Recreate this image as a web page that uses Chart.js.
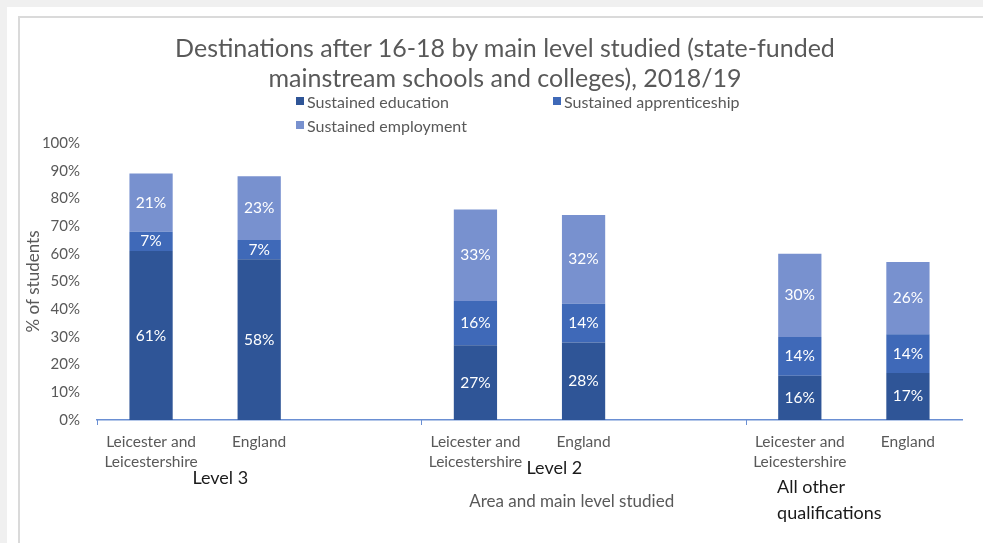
<!DOCTYPE html>
<html>
<head>
<meta charset="utf-8">
<title>Destinations after 16-18</title>
<script src="https://cdn.jsdelivr.net/npm/chart.js@4.4.1/dist/chart.umd.min.js"></script>
<style>
  html, body { margin: 0; padding: 0; background: #f0f0f0; width: 983px; height: 543px; overflow: hidden; }
  .sheet { position: absolute; left: 7px; top: 7px; width: 976px; height: 536px; background: #fff; }
  .panel { position: absolute; left: 11px; top: 9px; right: 0; bottom: 0; border-left: 2px solid #dadada; border-top: 2px solid #dadada; }
  .wrap { position: absolute; left: 0; top: 0; width: 963px; height: 525px; }
  #title { position: absolute; left: 0; top: 14px; width: 970px; text-align: center;
           font: 25px/30px Lato, sans-serif; color: #595959; white-space: nowrap; }
  #legend { position: absolute; left: 276px; top: 74px; display: grid; grid-template-columns: 257px 220px; row-gap: 6px;
            font: 16px Lato, sans-serif; color: #595959; }
  #legend span.item { display: flex; align-items: center; height: 18px; white-space: nowrap; }
  #legend i { display: inline-block; width: 8px; height: 8px; margin-right: 3px; }
</style>
</head>
<body>
<div class="sheet">
  <div class="panel">
    <div class="wrap">
      <canvas id="chart"></canvas>
      <div id="title"></div>
      <div id="legend"></div>
    </div>
  </div>
</div>
<script>
const titleLines = ["Destinations after 16-18 by main level studied (state-funded", "mainstream schools and colleges), 2018/19"];
const categories = [
  ["Leicester and", "Leicestershire"], "England", "",
  ["Leicester and", "Leicestershire"], "England", "",
  ["Leicester and", "Leicestershire"], "England"
];
const seriesNames = ["Sustained education", "Sustained apprenticeship", "Sustained employment"];
const education = [61, 58, null, 27, 28, null, 16, 17];
const apprenticeship = [7, 7, null, 16, 14, null, 14, 14];
const employment = [21, 23, null, 33, 32, null, 30, 26];
const groupNames = ["Level 3", "Level 2", ["All other", "qualifications"]];
const yTicks = [0, 10, 20, 30, 40, 50, 60, 70, 80, 90, 100];
const colors = ["#2f5597", "#3f69b8", "#7891cf"];

const FONT = "Lato, sans-serif";
const GREY = "#595959";
const AXIS_BLUE = "#6a8fd3";

// white percentage inside each stacked segment
const segmentLabels = {
  id: "segmentLabels",
  afterDatasetsDraw(chart) {
    const ctx = chart.ctx;
    ctx.save();
    ctx.font = "15.5px " + FONT;
    ctx.fillStyle = "#ffffff";
    ctx.textAlign = "center";
    ctx.textBaseline = "middle";
    chart.data.datasets.forEach((ds, i) => {
      chart.getDatasetMeta(i).data.forEach((bar, j) => {
        const v = ds.data[j];
        if (v == null) return;
        const p = bar.getProps(["x", "y", "base"], true);
        ctx.fillText(v + "%", p.x, (p.y + p.base) / 2);
      });
    });
    ctx.restore();
  }
};

// group tick marks under the axis, level names and the axis title
const groupAxis = {
  id: "groupAxis",
  afterDraw(chart) {
    const x = chart.scales.x;
    const bottom = chart.chartArea.bottom;
    const ctx = chart.ctx;
    ctx.save();
    ctx.strokeStyle = AXIS_BLUE;
    ctx.lineWidth = 1;
    [-0.5, 2.5, 5.5].forEach(v => {
      const px = Math.round(x.getPixelForValue(v)) + 0.5;
      ctx.beginPath();
      ctx.moveTo(px, bottom);
      ctx.lineTo(px, bottom + 5);
      ctx.stroke();
    });

    ctx.fillStyle = "#1a1a1a";
    ctx.font = "18px " + FONT;
    ctx.textBaseline = "middle";
    ctx.textAlign = "center";
    ctx.fillText(groupNames[0], x.getPixelForValue(0.64), bottom + 58);
    ctx.fillText(groupNames[1], x.getPixelForValue(3.73), bottom + 48);
    ctx.textAlign = "left";
    ctx.fillText(groupNames[2][0], x.getPixelForValue(5.79), bottom + 67);
    ctx.fillText(groupNames[2][1], x.getPixelForValue(5.79), bottom + 93);

    ctx.fillStyle = GREY;
    ctx.font = "17px " + FONT;
    ctx.textAlign = "center";
    ctx.fillText("Area and main level studied", x.getPixelForValue(3.89), bottom + 82);
    ctx.restore();
  }
};

const datasets = [education, apprenticeship, employment].map((data, i) => ({
  label: seriesNames[i],
  data: data,
  backgroundColor: colors[i],
  borderWidth: 0,
  barPercentage: 0.4,
  categoryPercentage: 1
}));

new Chart(document.getElementById("chart"), {
  type: "bar",
  data: { labels: categories, datasets: datasets },
  plugins: [segmentLabels, groupAxis],
  options: {
    responsive: true,
    maintainAspectRatio: false,
    animation: false,
    layout: { padding: { left: 0, right: 21, top: 125, bottom: 0 } },
    plugins: {
      legend: { display: false },
      tooltip: { enabled: false },
      title: { display: false }
    },
    scales: {
      x: {
        stacked: true,
        grid: { display: false, drawTicks: false },
        border: { display: true, color: AXIS_BLUE, width: 1.5 },
        ticks: {
          color: GREY,
          font: { family: FONT, size: 15.5, lineHeight: 1.29 },
          padding: 12,
          maxRotation: 0,
          autoSkip: false
        },
        afterFit(scale) { scale.height = 123; }
      },
      y: {
        stacked: true,
        min: 0,
        max: 100,
        grid: { display: false, drawTicks: false },
        border: { display: false },
        afterBuildTicks(scale) { scale.ticks = yTicks.map(v => ({ value: v })); },
        ticks: {
          color: GREY,
          font: { family: FONT, size: 15 },
          padding: 17,
          callback: v => v + "%"
        },
        title: {
          display: true,
          text: "% of students",
          color: GREY,
          font: { family: FONT, size: 17 },
          padding: { top: 3, bottom: 0 }
        },
        afterFit(scale) { scale.width = 77; }
      }
    }
  }
});

// title block and two-column legend
const title = document.getElementById("title");
titleLines.forEach(line => {
  const div = document.createElement("div");
  div.textContent = line;
  title.appendChild(div);
});

const legend = document.getElementById("legend");
seriesNames.forEach((name, i) => {
  const item = document.createElement("span");
  item.className = "item";
  const box = document.createElement("i");
  box.style.background = colors[i];
  item.appendChild(box);
  item.appendChild(document.createTextNode(name));
  legend.appendChild(item);
});
</script>
</body>
</html>
